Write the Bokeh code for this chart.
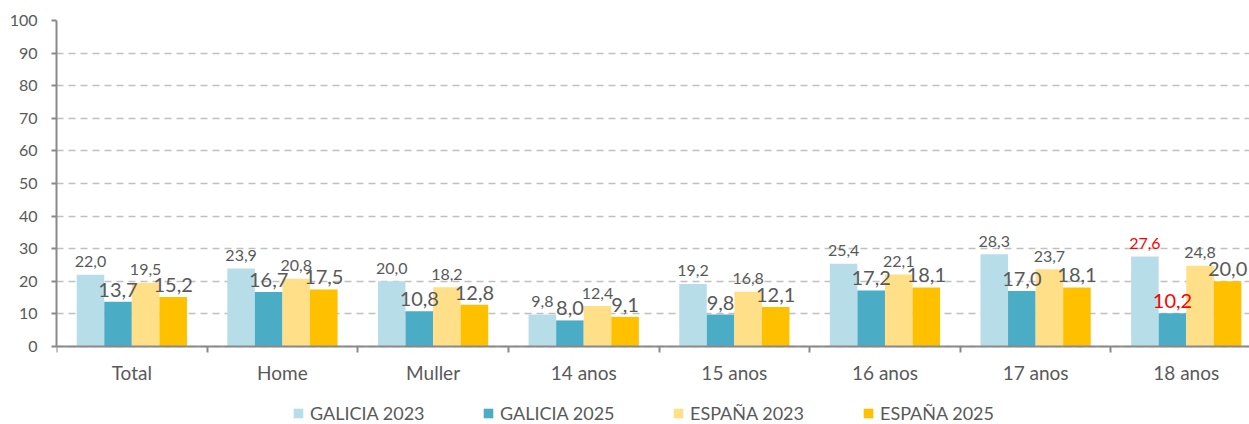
import numpy as np
from bokeh.plotting import figure
from bokeh.models import Range1d, FixedTicker, Legend, LegendItem, ColumnDataSource
from bokeh.embed import file_html
from bokeh.resources import INLINE
from bokeh.core.properties import value

# ---------------- data ----------------
categories = ["Total", "Home", "Muller", "14 anos", "15 anos", "16 anos", "17 anos", "18 anos"]
series_names = ["GALICIA 2023", "GALICIA 2025", "ESPAÑA 2023", "ESPAÑA 2025"]
galicia_2023 = [22.0, 23.9, 20.0, 9.8, 19.2, 25.4, 28.3, 27.6]
galicia_2025 = [13.7, 16.7, 10.8, 8.0, 9.8, 17.2, 17.0, 10.2]
espana_2023 = [19.5, 20.8, 18.2, 12.4, 16.8, 22.1, 23.7, 24.8]
espana_2025 = [15.2, 17.5, 12.8, 9.1, 12.1, 18.1, 18.1, 20.0]
y_ticks = [0, 10, 20, 30, 40, 50, 60, 70, 80, 90, 100]
# labels shown in red (series index -> category indices)
red_labels = {0: [7], 1: [7]}

# ---------------- style ----------------
FONT = "Lato"
colors = ["#b7dee8", "#4bacc6", "#ffdf88", "#ffc000"]
label_sizes = ["16px", "20px", "16px", "20px"]
label_offsets = [-13, -12, -13, -12]
TEXT = "#595959"
AXIS = "#898989"
bar_w = 0.183

series = [galicia_2023, galicia_2025, espana_2023, espana_2025]
n = len(categories)
centers = np.arange(n) + 0.5
bounds = list(range(n + 1))

# frame spans from the top of the plot area to the bottom of the page;
# the category axis is pinned at y = 0 and the legend sits below it
p = figure(width=1249, height=424,
           x_range=Range1d(0, 7.92), y_range=Range1d(-23.93, 100),
           output_backend="svg", toolbar_location=None,
           min_border_left=56, min_border_right=0,
           min_border_top=20, min_border_bottom=0)
p.outline_line_color = None
p.background_fill_color = "white"

# grid
p.xgrid.visible = False
p.ygrid.grid_line_color = "#c0c0c0"
p.ygrid.grid_line_dash = "7 5"
p.ygrid.grid_line_width = 1.5

# y axis
p.yaxis.ticker = FixedTicker(ticks=y_ticks)
p.yaxis.bounds = (0, 100)
p.yaxis.axis_line_color = AXIS
p.yaxis.axis_line_width = 2
p.yaxis.major_tick_line_color = AXIS
p.yaxis.major_tick_line_width = 2
p.yaxis.major_tick_out = 5
p.yaxis.major_tick_in = 0
p.yaxis.minor_tick_line_color = None
p.yaxis.major_label_standoff = 14
p.yaxis.major_label_text_font = FONT
p.yaxis.major_label_text_font_size = "16px"
p.yaxis.major_label_text_color = TEXT

# x axis: labels at centers, ticks at boundaries (minor ticks)
p.xaxis.fixed_location = 0
p.xaxis.ticker = FixedTicker(ticks=list(centers), minor_ticks=bounds)
p.xaxis.major_label_overrides = {float(c): cat for c, cat in zip(centers, categories)}
p.xaxis.axis_line_color = AXIS
p.xaxis.axis_line_width = 2
p.xaxis.major_tick_out = 0
p.xaxis.major_tick_in = 0
p.xaxis.major_tick_line_color = None
p.xaxis.minor_tick_out = 6
p.xaxis.minor_tick_in = 0
p.xaxis.minor_tick_line_color = AXIS
p.xaxis.minor_tick_line_width = 2
p.xaxis.major_label_standoff = 9
p.xaxis.major_label_text_font = FONT
p.xaxis.major_label_text_font_size = "19px"
p.xaxis.major_label_text_color = TEXT

items = []
sources = []
for j, (name, vals) in enumerate(zip(series_names, series)):
    xs = centers + (j - 1.5) * bar_w
    lab = [f"{v:.1f}".replace(".", ",") for v in vals]
    lcol = ["#ff0000" if i in red_labels.get(j, []) else TEXT for i in range(n)]
    src = ColumnDataSource(dict(x=xs, top=vals, label=lab, lcol=lcol))
    sources.append(src)
    r = p.vbar(x="x", top="top", width=bar_w, source=src,
               fill_color=colors[j], line_color=None)
    items.append(LegendItem(label=name, renderers=[r]))

# labels drawn after all bars so they overlap neighbouring bars
for j, src in enumerate(sources):
    p.text(x="x", y="top", text="label", source=src,
           text_align="center", text_baseline="alphabetic",
           y_offset=label_offsets[j],
           text_font=value(FONT), text_font_size=label_sizes[j],
           text_color="lcol")

legend = Legend(items=items, orientation="horizontal",
                location=(236, 0),
                glyph_width=12, glyph_height=12, label_standoff=6,
                label_width=120, label_height=20, spacing=52,
                padding=0, margin=0,
                border_line_color=None, background_fill_alpha=0,
                label_text_font=FONT, label_text_font_size="18px",
                label_text_color=TEXT)
p.add_layout(legend, "center")

open("out.html", "w").write(file_html(p, INLINE))
